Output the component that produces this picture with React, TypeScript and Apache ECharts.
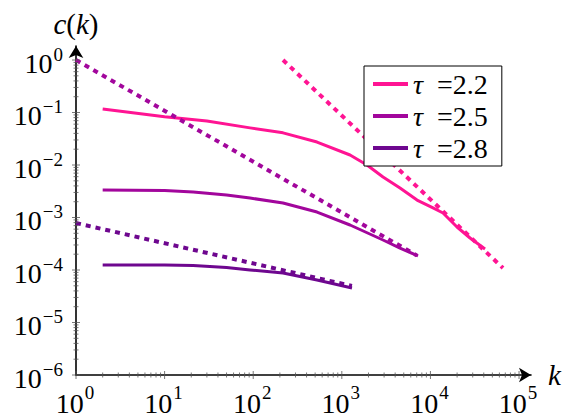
import React, { useEffect, useRef } from "react";
import * as echarts from "echarts";

// Degree k and clustering c(k) for three exponents tau
const tauLabels = ["2.2", "2.5", "2.8"];
const colors = ["#FF1493", "#A2069C", "#6E078F"];

const k22 = [2, 10, 30, 92, 217, 525, 1238, 1923, 2917, 4537, 7060, 10700, 13870, 19950, 28000, 41300];
const c22 = [0.117, 0.0828, 0.069, 0.051, 0.041, 0.0274, 0.0155, 0.0100, 0.0059, 0.00365, 0.00215, 0.00152, 0.00122, 0.000659, 0.000407, 0.000251];

const k25 = [2, 10, 21, 50, 92, 217, 525, 1238, 2917, 4537, 7245];
const c25 = [0.00334, 0.00327, 0.00306, 0.00268, 0.00235, 0.00189, 0.00127, 0.00072, 0.000373, 0.000262, 0.000185];

const k28 = [2, 10, 21, 50, 92, 217, 525, 1303];
const c28 = [1.245e-4, 1.24e-4, 1.22e-4, 1.117e-4, 1.0e-4, 8.77e-5, 6.46e-5, 4.54e-5];

// Power-law guide lines (dotted)
const fit22K = [217, 65900];
const fit22C = [1, 1.09e-4];
const fit25K = [1, 7060];
const fit25C = [1, 1.88e-4];
const fit28K = [1, 1300];
const fit28C = [7.85e-4, 4.97e-5];

// Axis decades and minor tick multipliers
const kDecades = [0, 1, 2, 3, 4, 5];
const cDecades = [-6, -5, -4, -3, -2, -1, 0];
const minorMultipliers = [2, 3, 4, 5, 6, 7, 8, 9];

const kMin = 1;
const kMax = Math.pow(10, 5.135);
const cMin = 1e-6;
const cMax = Math.pow(10, 0.267);

const FONT = "Liberation Serif";
const BASE_SIZE = 28;
const SUP_SIZE = 19;

const zip = (xs: number[], ys: number[]) => xs.map((x, i) => [x, ys[i]]);
const expText = (e: number) => (e < 0 ? "\u2212" + String(-e) : String(e));

function buildTicks() {
  const items: number[][] = [];
  kDecades.forEach((e) => {
    items.push([Math.pow(10, e), cMin, 0, 1]);
    if (e < kDecades[kDecades.length - 1]) {
      minorMultipliers.forEach((m) => items.push([m * Math.pow(10, e), cMin, 0, 0]));
    }
  });
  cDecades.forEach((e) => {
    items.push([kMin, Math.pow(10, e), 1, 1]);
    if (e < cDecades[cDecades.length - 1]) {
      minorMultipliers.forEach((m) => items.push([kMin, m * Math.pow(10, e), 1, 0]));
    }
  });
  return items;
}

function buildTickLabels() {
  const items: number[][] = [];
  kDecades.forEach((e) => items.push([Math.pow(10, e), cMin, 0, e]));
  cDecades.forEach((e) => items.push([kMin, Math.pow(10, e), 1, e]));
  return items;
}

function measure(text: string, size: number) {
  const ctx = document.createElement("canvas").getContext("2d");
  if (!ctx) return text.length * size * 0.5;
  ctx.font = `${size}px "${FONT}"`;
  return ctx.measureText(text).width;
}

const textEl = (text: string, x: number, y: number, size: number, align: string) => ({
  type: "text",
  style: {
    text,
    x,
    y,
    fontFamily: FONT,
    fontSize: size,
    fill: "#000",
    align,
    textAlign: align,
    verticalAlign: "middle",
    textVerticalAlign: "middle",
  },
});

const mathRich = {
  i: { fontFamily: FONT, fontSize: 29, fontStyle: "italic", color: "#000" },
  r: { fontFamily: FONT, fontSize: 29, color: "#000" },
};

export default function App() {
  const ref = useRef<HTMLDivElement>(null);

  useEffect(() => {
    if (!ref.current) return;
    const chart = echarts.init(ref.current, undefined, { renderer: "svg" });

    const solid = [zip(k22, c22), zip(k25, c25), zip(k28, c28)];
    const fits = [zip(fit22K, fit22C), zip(fit25K, fit25C), zip(fit28K, fit28C)];
    const names = tauLabels.map((t) => `\u03C4 =${t}`);
    const baseW = measure("10", BASE_SIZE);

    const series: any[] = [];
    solid.forEach((d, i) => {
      series.push({
        name: names[i],
        type: "line",
        data: d,
        showSymbol: false,
        symbol: "none",
        lineStyle: { color: colors[i], width: 3, join: "round" },
        itemStyle: { color: colors[i] },
        z: 3,
      });
    });
    fits.forEach((d, i) => {
      series.push({
        name: `fit ${tauLabels[i]}`,
        type: "line",
        data: d,
        showSymbol: false,
        symbol: "none",
        lineStyle: { color: colors[i], width: 4, type: [5, 5] },
        z: 4,
      });
    });
    // minor and major ticks crossing both axes
    series.push({
      name: "ticks",
      type: "custom",
      data: buildTicks(),
      clip: false,
      silent: true,
      z: 5,
      renderItem: (_params: any, api: any) => {
        const p = api.coord([api.value(0), api.value(1)]);
        const len = api.value(3) ? 4 : 2.5;
        const onX = api.value(2) === 0;
        const shape = onX
          ? { x1: p[0], y1: p[1] - len, x2: p[0], y2: p[1] + len }
          : { x1: p[0] - len, y1: p[1], x2: p[0] + len, y2: p[1] };
        return { type: "line", shape, style: { stroke: "#555", lineWidth: 0.8 } };
      },
    });
    // 10^n tick labels with raised exponents
    series.push({
      name: "tickLabels",
      type: "custom",
      data: buildTickLabels(),
      clip: false,
      silent: true,
      z: 5,
      renderItem: (_params: any, api: any) => {
        const p = api.coord([api.value(0), api.value(1)]);
        const onX = api.value(2) === 0;
        const sup = expText(api.value(3));
        const supW = measure(sup, SUP_SIZE);
        if (onX) {
          const total = baseW + supW + 1;
          const left = p[0] - total / 2 - 1;
          return {
            type: "group",
            children: [
              textEl("10", left, p[1] + 28, BASE_SIZE, "left"),
              textEl(sup, left + baseW + 1, p[1] + 17, SUP_SIZE, "left"),
            ],
          };
        }
        const right = p[0] - 13;
        return {
          type: "group",
          children: [
            textEl(sup, right, p[1] - 6, SUP_SIZE, "right"),
            textEl("10", right - supW - 1, p[1] + 3, BASE_SIZE, "right"),
          ],
        };
      },
    });

    chart.setOption({
      animation: false,
      backgroundColor: "#fff",
      textStyle: { fontFamily: FONT },
      grid: { left: 76, right: 40, top: 46, bottom: 43, containLabel: false },
      legend: {
        data: names,
        orient: "vertical",
        left: 364,
        top: 66,
        padding: [4, 14, 4, 9],
        itemGap: 4,
        itemWidth: 35,
        itemHeight: 4,
        icon: "rect",
        borderColor: "#000",
        borderWidth: 1,
        backgroundColor: "#fff",
        z: 10,
        formatter: (name: string) => `{t|\u03C4}{v|  =${name.split("=")[1]}}`,
        textStyle: {
          fontFamily: FONT,
          fontSize: BASE_SIZE,
          color: "#000",
          rich: {
            t: { fontFamily: FONT, fontSize: BASE_SIZE, fontStyle: "italic", color: "#000" },
            v: { fontFamily: FONT, fontSize: BASE_SIZE, color: "#000" },
          },
        },
      },
      xAxis: {
        type: "log",
        logBase: 10,
        min: kMin,
        max: kMax,
        name: "{i|k}",
        nameLocation: "end",
        nameGap: 17,
        nameTextStyle: { fontFamily: FONT, fontSize: 29, rich: mathRich },
        axisLine: {
          show: true,
          lineStyle: { color: "#000", width: 1.6 },
          symbol: ["none", "arrow"],
          symbolSize: [11, 12],
        },
        axisTick: { show: false },
        axisLabel: { show: false },
        splitLine: { show: false },
        minorTick: { show: false },
      },
      yAxis: {
        type: "log",
        logBase: 10,
        min: cMin,
        max: cMax,
        name: "{i|c}{r|(}{i|k}{r|)}",
        nameLocation: "end",
        nameGap: 8,
        nameTextStyle: { fontFamily: FONT, fontSize: 29, rich: mathRich },
        axisLine: {
          show: true,
          lineStyle: { color: "#000", width: 1.6 },
          symbol: ["none", "arrow"],
          symbolSize: [11, 12],
        },
        axisTick: { show: false },
        axisLabel: { show: false },
        splitLine: { show: false },
        minorTick: { show: false },
      },
      series,
    });

    return () => chart.dispose();
  }, []);

  return (
    <div
      ref={ref}
      style={{ position: "fixed", left: 0, top: 0, width: 571, height: 418, background: "#fff" }}
    />
  );
}
